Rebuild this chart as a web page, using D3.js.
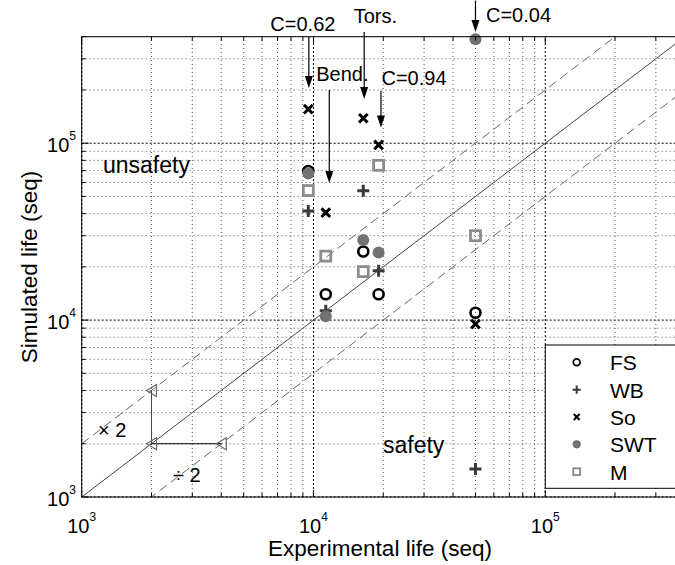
<!DOCTYPE html>
<html><head><meta charset="utf-8">
<script src="https://cdn.jsdelivr.net/npm/d3@7"></script>
<style>
html,body{margin:0;padding:0;background:#fff;}
svg{display:block;font-family:"Liberation Sans",Arial,Helvetica,sans-serif;}
</style></head>
<body><svg id="c" width="675" height="565"></svg>
<script>
// ---- data (experimental life, simulated life) ----
const seriesNames = ["FS","WB","So","SWT","M"];
const expLife = [9500, 11300, 16400, 19100, 50000];
const simFS  = [69600, 14000, 24400, 14000, 11000];
const simWB  = [41400, 11300, 53800, 19000, 1440];
const simSo  = [155700, 40500, 138400, 97800, 9500];
const simSWT = [67400, 10500, 28400, 24100, 387000];
const simM   = [54000, 23000, 18800, 75000, 30000];
const xTickLabels = ["3","4","5"];
const yTickLabels = ["3","4","5"];
const annotations = [
  {label:"C=0.62", x:9550,  y0:4.0e5, y1:2.05e5},
  {label:"Tors.",  x:16550, y0:4.25e5, y1:1.78e5},
  {label:"Bend.",  x:11700, y0:2.0e5, y1:5.95e4},
  {label:"C=0.94", x:19550, y0:1.98e5, y1:1.225e5},
  {label:"C=0.04", x:50000, y0:6.4e5, y1:4.25e5}
];

const svg = d3.select("#c");
const x = d3.scaleLog().domain([1e3, 4e5]).range([81.7, 684.8]);
const y = d3.scaleLog().domain([1e3, 4e5]).range([497, 36.7]);
const [x0, x1] = x.range(), [y0, y1] = y.range();

svg.append("defs").append("clipPath").attr("id","clip")
  .append("rect").attr("x",x0).attr("y",y1).attr("width",x1-x0).attr("height",y0-y1);

const allTicks = x.ticks();
const isMajor = v => Math.abs(Math.log10(v) - Math.round(Math.log10(v))) < 1e-9;

// grid
const grid = svg.append("g");
allTicks.forEach(v => {
  const maj = isMajor(v);
  grid.append("line").attr("x1",x(v)).attr("x2",x(v)).attr("y1",y0).attr("y2",y1)
    .attr("stroke", maj ? "#000" : "#555").attr("stroke-width",1)
    .attr("stroke-dasharray", maj ? "2,2" : "1,3");
  grid.append("line").attr("y1",y(v)).attr("y2",y(v)).attr("x1",x0).attr("x2",x1)
    .attr("stroke", maj ? "#000" : "#555").attr("stroke-width",1)
    .attr("stroke-dasharray", maj ? "2,2" : "1,3");
});

// reference lines
const plot = svg.append("g").attr("clip-path","url(#clip)");
const refs = [{f:1, dash:null, col:"#444"}, {f:2, dash:"9,5", col:"#666"}, {f:0.5, dash:"9,5", col:"#666"}];
refs.forEach(r => {
  plot.append("line").attr("x1",x(1e3)).attr("y1",y(1e3*r.f)).attr("x2",x(4e5)).attr("y2",y(4e5*r.f))
    .attr("stroke",r.col).attr("stroke-width",1).attr("stroke-dasharray",r.dash);
});

// factor-of-2 indicator
plot.append("line").attr("x1",x(2000)).attr("x2",x(2000)).attr("y1",y(2000)).attr("y2",y(4000))
  .attr("stroke","#444").attr("stroke-width",1);
plot.append("line").attr("x1",x(2000)).attr("x2",x(4000)).attr("y1",y(2000)).attr("y2",y(2000))
  .attr("stroke","#000").attr("stroke-width",1);
[[2000,4000],[2000,2000],[4000,2000]].forEach(([a,b]) => {
  const cx = x(a), cy = y(b);
  plot.append("path").attr("d",`M${cx-5},${cy} L${cx+5},${cy-6} L${cx+5},${cy+6} Z`)
    .attr("fill","none").attr("stroke","#666").attr("stroke-width",1.2);
});
svg.append("text").attr("x",98).attr("y",436.7).attr("font-size",20).text("× 2");
svg.append("text").attr("x",173).attr("y",481.7).attr("font-size",20).text("÷ 2");
svg.append("text").attr("x",103).attr("y",172.5).attr("font-size",23).text("unsafety");
svg.append("text").attr("x",383).attr("y",453.3).attr("font-size",23).text("safety");

// markers
function drawMarker(g, type, cx, cy, s) {
  if (type === "FS") {
    g.append("circle").attr("cx",cx).attr("cy",cy).attr("r",5*s).attr("fill","none")
      .attr("stroke","#000").attr("stroke-width",2.6*s);
  } else if (type === "WB") {
    const h = 6*s;
    g.append("path").attr("d",`M${cx-h},${cy} H${cx+h} M${cx},${cy-h} V${cy+h}`)
      .attr("stroke","#3a3a3a").attr("stroke-width",3*s).attr("fill","none");
  } else if (type === "So") {
    const h = 4.3*s;
    g.append("path").attr("d",`M${cx-h},${cy-h} L${cx+h},${cy+h} M${cx-h},${cy+h} L${cx+h},${cy-h}`)
      .attr("stroke","#000").attr("stroke-width",3*s).attr("fill","none");
  } else if (type === "SWT") {
    g.append("circle").attr("cx",cx).attr("cy",cy).attr("r",6*s).attr("fill","#727272");
  } else if (type === "M") {
    const h = 5*s;
    g.append("rect").attr("x",cx-h).attr("y",cy-h).attr("width",2*h).attr("height",2*h)
      .attr("fill","none").attr("stroke","#8c8c8c").attr("stroke-width",2.8*s);
  }
}
const simBySeries = {FS:simFS, WB:simWB, So:simSo, SWT:simSWT, M:simM};
const pts = svg.append("g");
seriesNames.forEach(n => {
  simBySeries[n].forEach((v,i) => drawMarker(pts, n, x(expLife[i]), y(v), 1));
});

// annotations
const ann = svg.append("g");
annotations.forEach(a => {
  const ax = x(a.x), ya = y(a.y0), yb = y(a.y1);
  ann.append("line").attr("x1",ax).attr("x2",ax).attr("y1",ya).attr("y2",yb-11)
    .attr("stroke","#000").attr("stroke-width",1.2);
  ann.append("path").attr("d",`M${ax-4},${yb-12} L${ax+4},${yb-12} L${ax},${yb} Z`).attr("fill","#000");
});
const annText = [
  {i:0, dx:-38.5, y:31},
  {i:1, dx:-10.5, y:23},
  {i:2, dx:-13,   y:81},
  {i:3, dx:0.5,   y:85},
  {i:4, dx:10.5,  y:21.5}
];
annText.forEach(t => {
  ann.append("text").attr("x", x(annotations[t.i].x)+t.dx).attr("y",t.y)
    .attr("font-size",20).text(annotations[t.i].label);
});

// frame
svg.append("rect").attr("x",x0).attr("y",y1).attr("width",x1-x0).attr("height",y0-y1)
  .attr("fill","none").attr("stroke","#000").attr("stroke-width",1);

// ticks (inward, all four sides)
const tk = svg.append("g").attr("stroke","#000").attr("stroke-width",1);
allTicks.forEach(v => {
  const L = isMajor(v) ? 7 : 4;
  const px = x(v), py = y(v);
  tk.append("line").attr("x1",px).attr("x2",px).attr("y1",y0).attr("y2",y0-L);
  tk.append("line").attr("x1",px).attr("x2",px).attr("y1",y1).attr("y2",y1+L);
  tk.append("line").attr("y1",py).attr("y2",py).attr("x1",x0).attr("x2",x0+L);
  tk.append("line").attr("y1",py).attr("y2",py).attr("x1",x1).attr("x2",x1-L);
});

// tick labels
const majors = allTicks.filter(isMajor);
majors.forEach((v,i) => {
  const t = svg.append("text").attr("x", x(v)).attr("y", 532.5).attr("text-anchor","middle").attr("font-size",20);
  t.append("tspan").text("10");
  t.append("tspan").attr("dy",-11.5).attr("font-size",12).text(xTickLabels[i]);
  const u = svg.append("text").attr("x", 76).attr("y", y(v)+8.5).attr("text-anchor","end").attr("font-size",20);
  u.append("tspan").text("10");
  u.append("tspan").attr("dy",-11.5).attr("font-size",12).text(yTickLabels[i]);
});

// axis titles
svg.append("text").attr("x",380).attr("y",555.5).attr("text-anchor","middle").attr("font-size",22.5)
  .text("Experimental life (seq)");
svg.append("text").attr("transform","translate(37,267) rotate(-90)").attr("text-anchor","middle")
  .attr("font-size",22.5).text("Simulated life (seq)");

// legend
const lg = svg.append("g");
lg.append("rect").attr("x",545.3).attr("y",345).attr("width",200).attr("height",143.3)
  .attr("fill","#fff").attr("stroke","#000").attr("stroke-width",1);
seriesNames.forEach((n,i) => {
  const ry = 362.3 + i*27.35;
  drawMarker(lg, n, 576.7, ry, 0.68);
  lg.append("text").attr("x",610).attr("y",ry+8).attr("font-size",21).text(n);
});
</script></body></html>
